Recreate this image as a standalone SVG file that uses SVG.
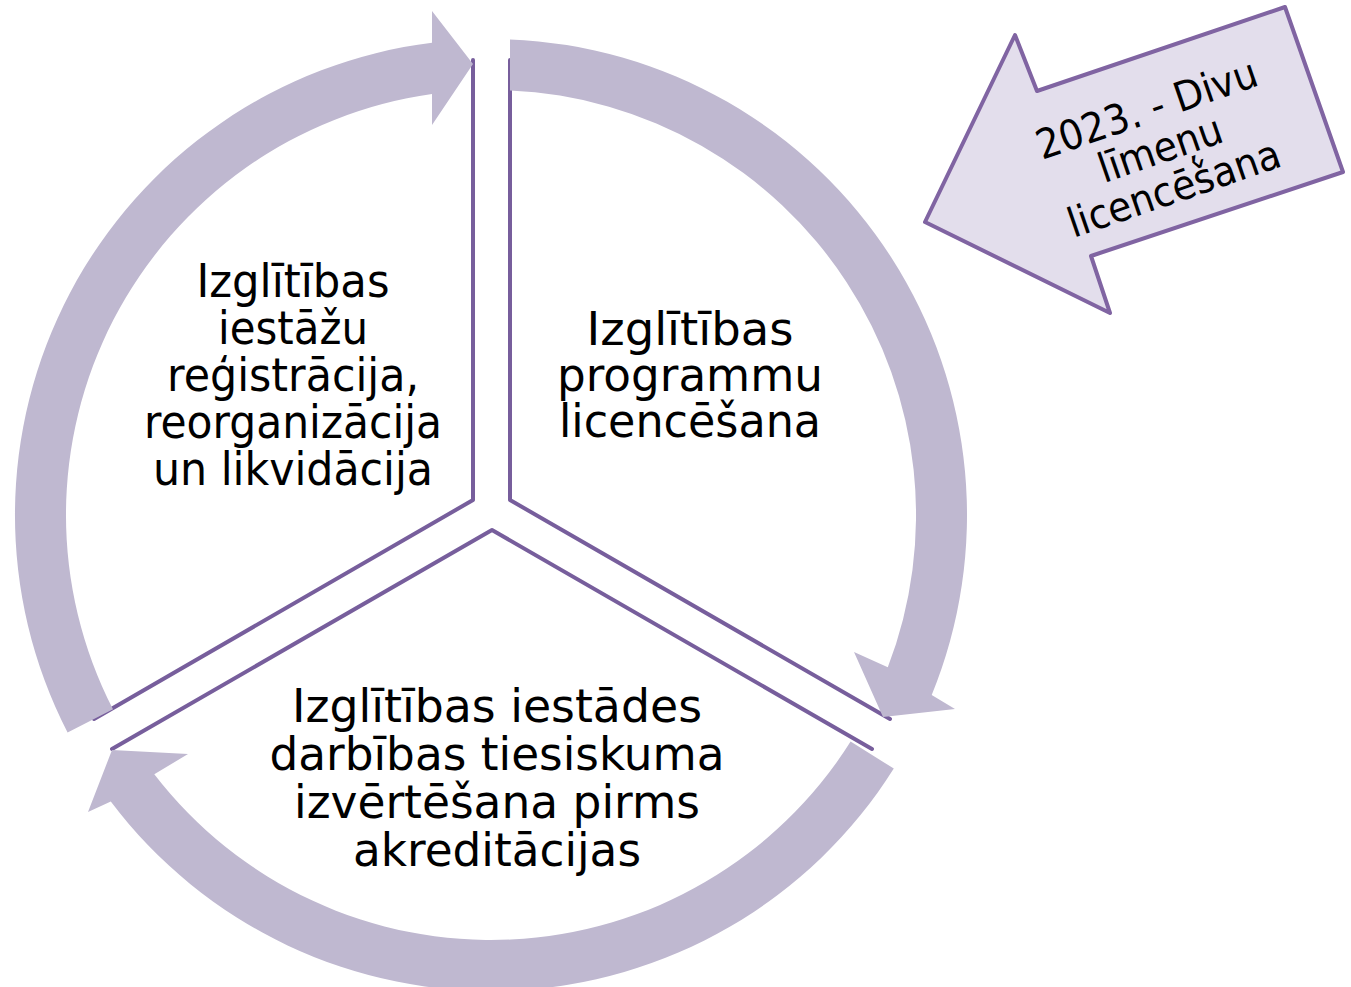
<svg xmlns="http://www.w3.org/2000/svg" width="1351" height="987" viewBox="0 0 1351 987">
<style>
.edge{fill:none;stroke:#775E9C;stroke-width:4;stroke-linejoin:round;stroke-linecap:round}
.ring{fill:#BFB8D0;stroke:none}
.lbl{font-family:"DejaVu Sans","Liberation Sans",sans-serif;font-size:47px;fill:#000;text-anchor:middle}
.call{font-family:"DejaVu Sans","Liberation Sans",sans-serif;font-size:41px;fill:#000;text-anchor:middle}
</style>
<rect width="1351" height="987" fill="#fff"/>
<g id="node-registration">
<polyline class="edge" points="473,60 473,500 94,719"/>
<text class="lbl" x="293" y="297" textLength="193" lengthAdjust="spacingAndGlyphs">Izglītības</text>
<text class="lbl" x="293" y="344" textLength="150" lengthAdjust="spacingAndGlyphs">iestāžu</text>
<text class="lbl" x="293" y="391" textLength="252" lengthAdjust="spacingAndGlyphs">reģistrācija,</text>
<text class="lbl" x="293" y="438" textLength="298" lengthAdjust="spacingAndGlyphs">reorganizācija</text>
<text class="lbl" x="293" y="485" textLength="280" lengthAdjust="spacingAndGlyphs">un likvidācija</text>
</g>
<g id="node-licensing">
<polyline class="edge" points="510,60 510,500 890,719"/>
<text class="lbl" x="690" y="345" textLength="207" lengthAdjust="spacingAndGlyphs">Izglītības</text>
<text class="lbl" x="690" y="391" textLength="266" lengthAdjust="spacingAndGlyphs">programmu</text>
<text class="lbl" x="690" y="437" textLength="262" lengthAdjust="spacingAndGlyphs">licencēšana</text>
</g>
<g id="node-evaluation">
<polyline class="edge" points="112,749 492,530 872,749"/>
<text class="lbl" x="497" y="722" textLength="410" lengthAdjust="spacingAndGlyphs">Izglītības iestādes</text>
<text class="lbl" x="497" y="770" textLength="455" lengthAdjust="spacingAndGlyphs">darbības tiesiskuma</text>
<text class="lbl" x="497" y="818" textLength="406" lengthAdjust="spacingAndGlyphs">izvērtēšana pirms</text>
<text class="lbl" x="497" y="866" textLength="288" lengthAdjust="spacingAndGlyphs">akreditācijas</text>
</g>
<g id="connectors">
<path class="ring" d="M510,39.4 A476,476 0 0 1 931.7,694.9 L955,709 L883,717 L854,652 L887.8,667.3 A425,425 0 0 0 510,90.4 Z"/>
<path class="ring" d="M893.8,768.6 A476,476 0 0 1 110.8,801.5 L88,812 L112,750 L188,754 L154.3,774.3 A425,425 0 0 0 850.6,741.5 Z"/>
<path class="ring" d="M67.6,732.6 A476,476 0 0 1 432,42.7 L432,11 L473,64 L432,125 L432,94.1 A425,425 0 0 0 113,709.3 Z"/>
</g>
<g id="node-callout">
<polygon points="925,222 1015,35 1037,91 1285,7 1343,172 1091,256 1110,313" fill="#E3DEEC" stroke="#8064A2" stroke-width="4" stroke-linejoin="round"/>
<g transform="translate(1160,148) rotate(-19) scale(0.92,1)">
<text class="call" x="0" y="-27">2023. - Divu</text>
<text class="call" x="0" y="15">līmeņu</text>
<text class="call" x="0" y="57">licencēšana</text>
</g>
</g>
</svg>
